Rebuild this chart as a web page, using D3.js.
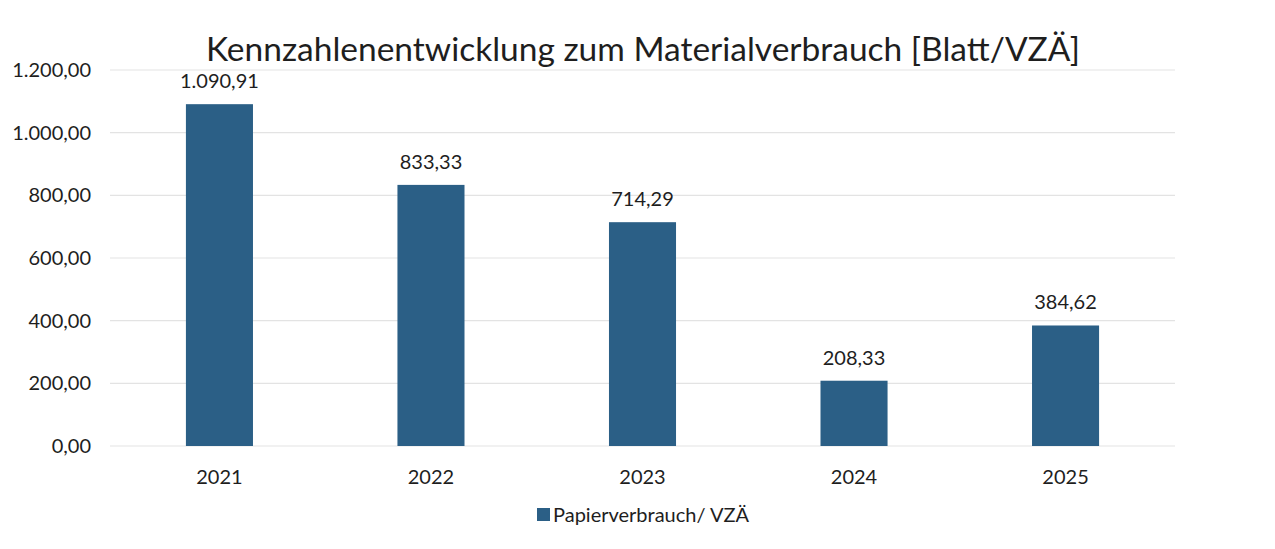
<!DOCTYPE html>
<html><head><meta charset="utf-8">
<script src="https://cdn.jsdelivr.net/npm/d3@7"></script>
<style>body{margin:0;background:#fff}svg{display:block}text{font-family:Lato,"Open Sans",sans-serif;fill:#1e1e1e}</style>
</head><body><svg id="c" width="1275" height="549"></svg>
<script>
const categories = ["2021","2022","2023","2024","2025"];
const values = [1090.91, 833.33, 714.29, 208.33, 384.62];
const yTicks = [0,200,400,600,800,1000,1200];
const seriesName = "Papierverbrauch/ VZÄ";
const title = "Kennzahlenentwicklung zum Materialverbrauch [Blatt/VZÄ]";

const fmt = v => { const s = v.toFixed(2).split("."); return s[0].replace(/\B(?=(\d{3})+(?!\d))/g,".")+","+s[1]; };
const svg = d3.select("#c");
const x = d3.scaleBand().domain(categories).range([114,1171]).paddingInner(0.683).paddingOuter(0.34);
const y = d3.scaleLinear().domain([0,1200]).range([446,70]);

svg.append("g").selectAll("line").data(yTicks).join("line")
  .attr("x1",110).attr("x2",1175).attr("y1",d=>y(d)).attr("y2",d=>y(d))
  .attr("stroke","#e3e3e3").attr("stroke-width",1.2);
svg.append("g").selectAll("text").data(yTicks).join("text")
  .attr("x",91).attr("y",d=>y(d)).attr("dy","0.35em").attr("text-anchor","end")
  .attr("font-size",20).text(d=>fmt(d));
svg.append("g").selectAll("rect").data(values).join("rect")
  .attr("x",(d,i)=>x(categories[i])).attr("width",x.bandwidth())
  .attr("y",d=>y(d)).attr("height",d=>y(0)-y(d)).attr("fill","#2b5f86");
svg.append("g").selectAll("text").data(values).join("text")
  .attr("x",(d,i)=>x(categories[i])+x.bandwidth()/2).attr("y",d=>y(d)-16)
  .attr("text-anchor","middle").attr("font-size",20).text(d=>fmt(d));
svg.append("g").selectAll("text").data(categories).join("text")
  .attr("x",d=>x(d)+x.bandwidth()/2).attr("y",484)
  .attr("text-anchor","middle").attr("font-size",20).text(d=>d);
svg.append("text").attr("x",643).attr("y",61).attr("text-anchor","middle")
  .attr("font-size",33.5).text(title);
svg.append("rect").attr("x",537).attr("y",508).attr("width",13).attr("height",13).attr("fill","#2b5f86");
svg.append("text").attr("x",553).attr("y",522).attr("font-size",20).text(seriesName);
</script></body></html>
